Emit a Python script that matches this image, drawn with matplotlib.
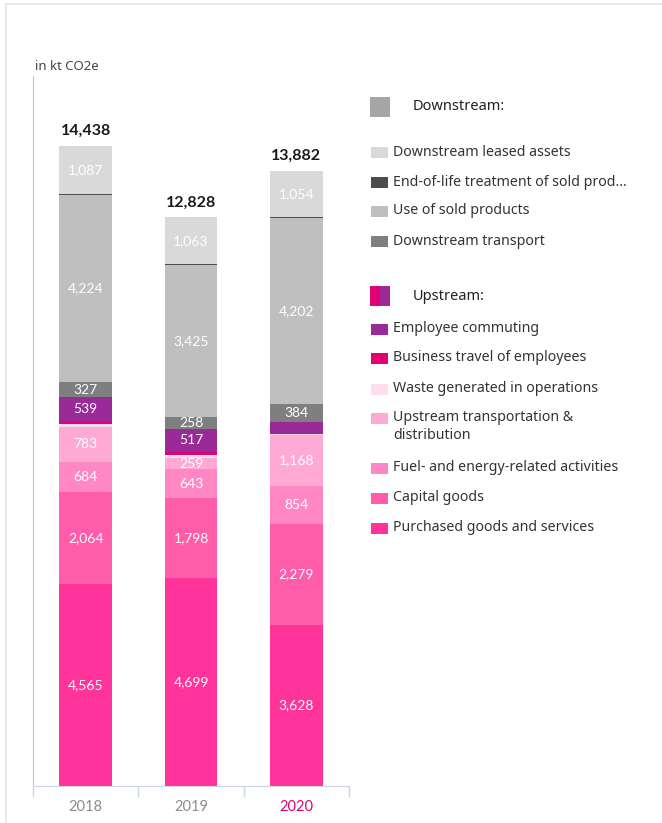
import matplotlib.pyplot as plt
import matplotlib.patches as mpatches
import numpy as np

years = ["2018", "2019", "2020"]
totals = [14438, 12828, 13882]

# bottom to top
purchased = [4565, 4699, 3628]
capital = [2064, 1798, 2279]
fuel = [684, 643, 854]
up_transport = [783, 259, 1168]
waste = [60, 66, 20]
business = [85, 80, 20]
commuting = [539, 517, 253]
down_transport = [327, 258, 384]
use_sold = [4224, 3425, 4202]
end_of_life = [20, 20, 20]
leased = [1087, 1063, 1054]

segments = [
    ("Purchased goods and services", purchased, "#ff3399"),
    ("Capital goods", capital, "#ff5caa"),
    ("Fuel- and energy-related activities", fuel, "#ff88c4"),
    ("Upstream transportation &\ndistribution", up_transport, "#ffaad4"),
    ("Waste generated in operations", waste, "#ffdcee"),
    ("Business travel of employees", business, "#e20074"),
    ("Employee commuting", commuting, "#9a2a98"),
    ("Downstream transport", down_transport, "#7f7f7f"),
    ("Use of sold products", use_sold, "#bfbfbf"),
    ("End-of-life treatment of sold prod...", end_of_life, "#4d4d4d"),
    ("Downstream leased assets", leased, "#d9d9d9"),
]

W, H = 662, 823
fig = plt.figure(figsize=(W / 100, H / 100), dpi=100)


def fx(px):
    return px / W


def fy(py):
    return 1 - py / H


# card border
fig.patches.append(mpatches.Rectangle((fx(6), fy(900)), 1.2, fy(4) - fy(900),
                                      transform=fig.transFigure, fill=False,
                                      edgecolor="#e6e6e6", lw=1.2))

ax = fig.add_axes([fx(33), fy(786), fx(349) - fx(33), fy(76) - fy(786)])
x = np.arange(len(years))
bottom = np.zeros(len(years))
for name, vals, col in segments:
    vals = np.array(vals, dtype=float)
    ax.bar(x, vals, 0.5, bottom=bottom, color=col, linewidth=0)
    for i, v in enumerate(vals):
        if v >= 258:
            ax.text(x[i], bottom[i] + v / 2, f"{int(v):,}", ha="center", va="center",
                    color="white", fontsize=10, family="Lato")
    bottom += vals

for i, t in enumerate(totals):
    ax.text(x[i], bottom[i] + 180, f"{t:,}", ha="center", va="bottom",
            fontsize=11.5, fontweight="bold", color="#1a1a1a", family="Lato")

ax.set_xlim(-0.5, 2.5)
ax.set_ylim(0, 16016)
ax.set_yticks([])
ax.set_xticks([-0.5, 0.5, 1.5, 2.5])
ax.set_xticklabels([])
ax.set_xticks(x, minor=True)
ax.set_xticklabels(years, minor=True)
ax.tick_params(axis="x", which="major", length=8, color="#ccd6e8", width=1)
ax.tick_params(axis="x", which="minor", length=0, pad=10, labelsize=10.5)
for lbl, c in zip(ax.get_xticklabels(minor=True), ["#8c8c8c", "#8c8c8c", "#e20074"]):
    lbl.set_color(c)
    lbl.set_family("Lato")
for s in ["top", "right"]:
    ax.spines[s].set_visible(False)
ax.spines["bottom"].set_color("#ccd6e8")
ax.spines["left"].set_color("#c4c4c4")

fig.text(fx(35), fy(67), "in kt CO2e", fontsize=9.5, color="#444444",
         va="center", family="Noto Sans")

# legend
txt_col = "#333333"


def square(px, py, w, h, col):
    fig.patches.append(mpatches.Rectangle((fx(px), fy(py + h)), w / W, h / H,
                                          transform=fig.transFigure,
                                          facecolor=col, lw=0))


square(370, 97, 20, 20, "#a6a6a6")
fig.text(fx(413), fy(107), "Downstream:", fontsize=10.5, fontweight="semibold",
         color="#222222", va="center", family="Noto Sans")
down_rows = [("Downstream leased assets", "#d9d9d9", 152),
             ("End-of-life treatment of sold prod...", "#4d4d4d", 182),
             ("Use of sold products", "#bfbfbf", 211),
             ("Downstream transport", "#7f7f7f", 241)]
for name, col, py in down_rows:
    square(371, py - 5, 17, 11, col)
    fig.text(fx(393), fy(py), name, fontsize=10.2, color=txt_col, va="center",
             family="Noto Sans")

square(370, 286, 10, 20, "#e20074")
square(380, 286, 10, 20, "#9a2a98")
fig.text(fx(413), fy(296), "Upstream:", fontsize=10.5, fontweight="semibold",
         color="#222222", va="center", family="Noto Sans")
up_rows = [("Employee commuting", "#9a2a98", 329),
           ("Business travel of employees", "#e20074", 358),
           ("Waste generated in operations", "#ffdcee", 389),
           ("Upstream transportation &\ndistribution", "#ffaad4", 418),
           ("Fuel- and energy-related activities", "#ff88c4", 468),
           ("Capital goods", "#ff5caa", 498),
           ("Purchased goods and services", "#ff3399", 528)]
for name, col, py in up_rows:
    square(371, py - 5, 17, 11, col)
    fig.text(fx(393), fy(py - 8), name, fontsize=10.2, color=txt_col, va="top",
             family="Noto Sans", linespacing=1.3)

fig.savefig("out.png", dpi=100)
